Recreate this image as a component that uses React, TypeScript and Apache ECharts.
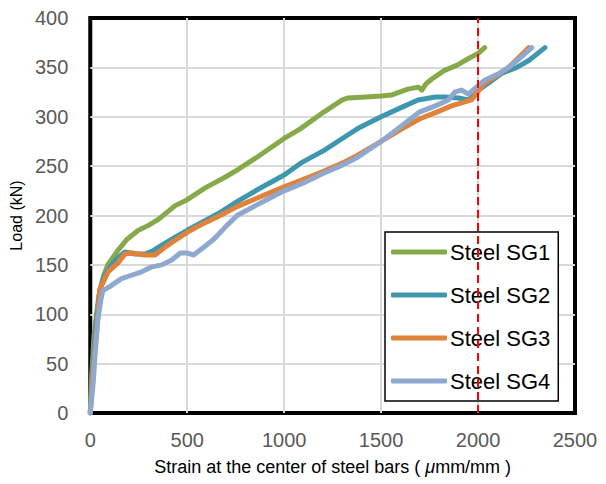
import React, { useEffect, useRef } from "react";
import * as echarts from "echarts";

const sg1X = [0, 3, 8, 20, 45, 67, 90, 144, 190, 248, 300, 351, 400, 438, 500, 593, 697, 757, 852, 1000, 1085, 1206, 1300, 1330, 1420, 1500, 1552, 1638, 1692, 1710, 1730, 1760, 1827, 1890, 1951, 2000, 2034];
const sg1Y = [0, 15, 40, 80, 120, 138, 150, 165, 176, 185, 190, 196, 204, 210, 216, 228, 239, 246, 258, 278, 288, 305, 317, 319, 320, 321, 322, 328, 330, 327, 333, 338, 347, 352, 359, 364, 370];

const sg2X = [0, 5, 15, 30, 50, 70, 91, 130, 179, 230, 282, 320, 369, 438, 500, 584, 660, 757, 852, 1000, 1085, 1206, 1300, 1379, 1500, 1600, 1690, 1780, 1827, 1899, 1951, 2003, 2060, 2122, 2200, 2262, 2345];
const sg2Y = [0, 20, 50, 90, 125, 137, 145, 155, 163, 161, 161, 164, 170, 178, 185, 194, 202, 214, 225, 241, 253, 266, 278, 288, 300, 309, 317, 320, 320, 319, 317, 327, 335, 344, 350, 357, 370];

const sg3X = [0, 5, 12, 23, 40, 49, 92, 143, 179, 215, 282, 334, 386, 438, 500, 584, 660, 757, 852, 1000, 1103, 1206, 1300, 1379, 1500, 1600, 1700, 1790, 1863, 1966, 2034, 2100, 2158, 2210, 2262];
const sg3Y = [0, 15, 35, 61, 100, 125, 143, 152, 161, 162, 160, 160, 168, 175, 183, 192, 199, 209, 217, 229, 237, 245, 253, 261, 275, 287, 298, 305, 311, 317, 334, 342, 350, 360, 370];

const sg4X = [0, 5, 15, 25, 39, 55, 65, 100, 161, 220, 265, 319, 369, 420, 464, 500, 533, 580, 637, 700, 757, 852, 920, 1000, 1100, 1206, 1300, 1379, 1500, 1600, 1700, 1780, 1847, 1880, 1915, 1950, 1980, 2034, 2100, 2158, 2220, 2277];
const sg4Y = [0, 10, 30, 60, 94, 115, 124, 128, 136, 140, 143, 148, 150, 155, 162, 162, 160, 167, 176, 189, 200, 210, 217, 225, 233, 243, 251, 259, 275, 290, 305, 311, 317, 325, 327, 323, 328, 337, 343, 350, 360, 370];

const seriesNames = ["Steel SG1", "Steel SG2", "Steel SG3", "Steel SG4"];
const seriesColors = ["#86A94A", "#3F97AF", "#E0823A", "#8FA8D0"];
const seriesXs = [sg1X, sg2X, sg3X, sg4X];
const seriesYs = [sg1Y, sg2Y, sg3Y, sg4Y];

const limitStrain = 2000;
const xTicks = { min: 0, max: 2500, interval: 500 };
const yTicks = { min: 0, max: 400, interval: 50 };

const FONT = "Liberation Sans";

export default function App() {
  const ref = useRef<HTMLDivElement>(null);
  useEffect(() => {
    if (!ref.current) return;
    const chart = echarts.init(ref.current, null, { renderer: "svg" });
    const series: any[] = seriesNames.map((name, i) => ({
      name,
      type: "line",
      data: seriesXs[i].map((x, j) => [x, seriesYs[i][j]]),
      showSymbol: false,
      symbol: "none",
      color: seriesColors[i],
      lineStyle: { width: 5, color: seriesColors[i], cap: "round", join: "round" },
      z: 2 + i,
    }));
    series[3].markLine = {
      silent: true,
      symbol: ["none", "none"],
      label: { show: false },
      lineStyle: { color: "#FF0000", type: [8, 5], width: 2 },
      data: [{ xAxis: limitStrain }],
      z: 10,
    };
    const splitLine = { show: true, showMinLine: false, showMaxLine: false, lineStyle: { color: "#D9D9D9", width: 2 } };
    chart.setOption({
      animation: false,
      backgroundColor: "#fff",
      grid: {
        left: 90,
        right: 31,
        top: 18,
        bottom: 71,
        show: true,
        borderColor: "#000",
        borderWidth: 4,
        backgroundColor: "transparent",
      },
      xAxis: {
        type: "value",
        ...xTicks,
        axisLine: { show: false },
        axisTick: { show: false },
        splitLine,
        axisLabel: { fontFamily: FONT, fontSize: 20, color: "#595959", margin: 17, formatter: (v: number) => String(v) },
        name: "Strain at the center of steel bars ( {mu|μ}mm/mm )",
        nameLocation: "middle",
        nameGap: 45,
        nameTextStyle: {
          fontFamily: FONT,
          fontSize: 18,
          color: "#000",
          rich: { mu: { fontFamily: FONT, fontSize: 18, fontStyle: "italic", color: "#000" } },
        },
      },
      yAxis: {
        type: "value",
        ...yTicks,
        axisLine: { show: false },
        axisTick: { show: false },
        splitLine,
        axisLabel: { fontFamily: FONT, fontSize: 20, color: "#595959", margin: 22, formatter: (v: number) => String(v) },
        name: "Load (kN)",
        nameLocation: "middle",
        nameGap: 51,
        nameTextStyle: { fontFamily: FONT, fontSize: 16, color: "#000" },
      },
      legend: {
        orient: "vertical",
        left: 385,
        top: 232,
        data: seriesNames,
        icon: "roundRect",
        itemWidth: 56,
        itemHeight: 5,
        itemGap: 17,
        padding: [7, 8, 7, 6],
        borderColor: "#000",
        borderWidth: 1.5,
        backgroundColor: "#fff",
        textStyle: { fontFamily: FONT, fontSize: 22, color: "#000", lineHeight: 26, padding: [0, 0, 0, -2] },
      },
      series,
    });
    return () => chart.dispose();
  }, []);
  return <div ref={ref} style={{ position: "fixed", left: 0, top: 0, width: 606, height: 484 }} />;
}
